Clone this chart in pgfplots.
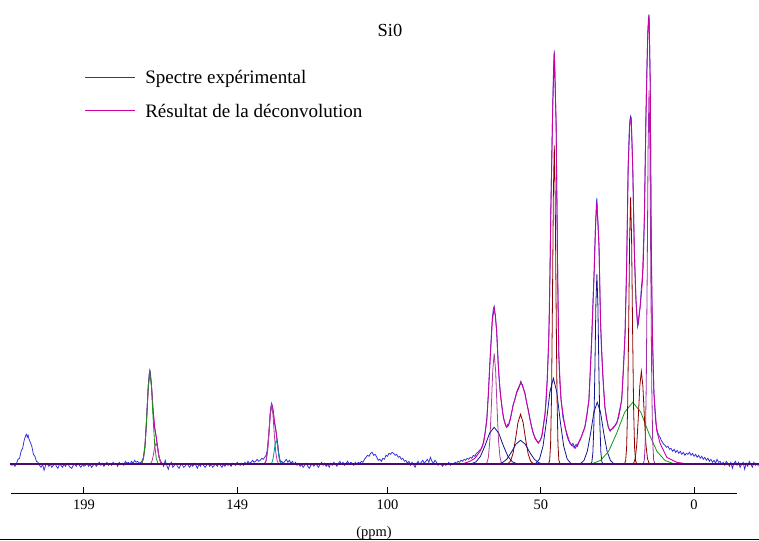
\documentclass[border=0pt]{standalone}
\usepackage{fontspec}
\setmainfont{Liberation Serif}
\usepackage{pgfplots}
\pgfplotsset{compat=1.18}
\definecolor{expblue}{RGB}{45,45,215}
\definecolor{fitmag}{RGB}{205,0,165}
\definecolor{basepur}{RGB}{80,10,110}
\definecolor{cnavy}{RGB}{20,20,140}
\definecolor{cred}{RGB}{139,0,0}
\definecolor{cgreen}{RGB}{20,150,20}
\definecolor{cteal}{RGB}{0,150,150}
\definecolor{cmauve}{RGB}{175,60,155}
\definecolor{cpurple}{RGB}{160,40,170}
\begin{document}
\begin{tikzpicture}
\useasboundingbox (-11bp,-48bp) rectangle (748bp,493bp);
\begin{axis}[
  at={(0,0)}, anchor=south west,
  scale only axis, width=726bp, height=493bp,
  xmin=-14, xmax=222.8, x dir=reverse,
  ymin=-28.7, ymax=464.3,
  clip=false,
  axis x line*=bottom, axis y line=none,
  x axis line style={black, line width=1bp},
  xtick={199,149,100,50,0},
  tick align=inside, major tick length=6bp,
  xtick style={black, line width=1bp},
  ytick=\empty,
  /pgf/number format/assume math mode=true,
  xticklabel style={font=\fontsize{14.5}{16}\selectfont, yshift=-3bp},
  xlabel={(ppm)},
  xlabel style={font=\fontsize{14.5}{16}\selectfont, at={(axis description cs:0.5,0)}, anchor=center, yshift=-40bp},
  title={Si0},
  title style={font=\fontsize{18.5}{20}\selectfont, at={(rel axis cs:0.522,1)}, anchor=center, yshift=-36bp},
  legend cell align=left,
  legend style={draw=none, fill=none, at={(rel axis cs:0,1)}, anchor=north west, xshift=74bp, yshift=-68bp, font=\fontsize{19.1}{21}\selectfont, row sep=15bp, inner sep=0pt},
]
% experimental spectrum
\addplot[expblue, line width=0.75bp, legend image code/.code={\node[anchor=west, inner sep=0pt] at (0bp,0bp) {\textcolor{expblue}{\rule[-0.45bp]{50bp}{0.9bp}}}; \path (58bp,0bp);}] coordinates {
(223.1,1) (222.5,-1) (222.0,0) (221.5,-2) (221.0,1) (220.5,5) (220.0,6) (219.5,13) (219.0,16) (218.5,24) (218.0,29) (217.7,30) (217.5,27) (217.2,29) (217.0,26) (216.5,22) (216.0,18) (215.5,10) (215.0,8) (214.5,3) (214.0,2) (213.5,-1)
(213.0,-3) (212.5,0) (212.0,-6) (211.5,-1) (211.0,1) (210.5,-2) (210.0,0) (209.5,-3) (209.0,-1) (208.5,1) (208.0,-2) (207.5,-4) (207.0,0) (206.5,-1) (206.0,-3) (205.5,0) (205.0,-2) (204.5,1) (204.0,-1) (203.5,-3) (203.0,-4) (202.5,-1) (202.0,0) (201.5,-2) (201.0,1) (200.5,-1) (200.0,-3) (199.5,0) (199.0,-2) (198.5,-1) (198.0,1) (197.5,-2) (197.0,0) (196.5,-3) (196.0,-1) (195.5,1) (195.0,-2) (194.5,0) (194.0,2) (193.5,-1) (193.0,1) (192.5,-2) (192.0,0) (191.5,2) (191.0,-1) (190.5,1) (190.0,-1) (189.5,2) (189.0,0) (188.5,1) (188.0,-2) (187.5,2) (187.0,0) (186.5,1) (186.0,-1) (185.5,3) (185.0,1) (184.5,2) (184.0,0) (183.5,3) (183.0,1) (182.5,4) (182.0,2) (181.5,3) (181.0,1)
(180.5,2) (180.1,3) (179.6,7) (179.1,17) (178.8,32) (178.55,47) (178.3,62) (178.0,80) (177.75,90) (177.5,94) (177.3,91) (177.0,79) (176.75,68) (176.5,55) (176.25,47) (176.0,37) (175.75,33) (175.5,29) (175.25,23) (175.0,18) (174.75,11) (174.5,7) (174.0,3) (173.5,1)
(173.0,-2) (172.5,4) (172.0,-1) (171.5,-5) (171.0,0) (170.5,2) (170.0,-3) (169.5,-1) (169.0,1) (168.5,-2) (168.0,-4) (167.5,-1) (167.0,0) (166.5,-3) (166.0,-2) (165.5,1) (165.0,-1) (164.5,-3) (164.0,0) (163.5,-2) (163.0,1) (162.5,-1) (162.0,-4) (161.5,0) (161.0,-2) (160.5,1) (160.0,-1) (159.5,-3) (159.0,-1) (158.5,1) (158.0,-2) (157.5,0) (157.0,-3) (156.5,-1) (156.0,0) (155.5,-2) (155.0,1) (154.5,-1) (154.0,-3) (153.5,0) (153.0,-2) (152.5,1) (152.0,-1) (151.5,0) (151.0,-2) (150.5,1) (150.0,0) (149.5,-1) (149.0,2) (148.5,0) (148.0,-1) (147.5,1) (147.0,-1) (146.5,2) (146.0,0) (145.5,3) (145.0,1) (144.5,2) (144.0,4) (143.5,2) (143.0,3) (142.5,5) (142.0,3) (141.5,4) (141.0,6)
(140.5,5) (140.05,7) (139.6,9) (139.3,13) (139.0,21) (138.7,31) (138.45,42) (138.25,52) (138.0,58) (137.8,61) (137.6,59) (137.35,55) (137.1,48) (136.9,42) (136.65,38) (136.45,34) (136.2,29) (136.0,24) (135.75,19) (135.55,13) (135.3,8) (135.1,5) (134.8,2) (134.5,3) (134.0,1)
(133.5,3) (133.0,5) (132.5,2) (132.0,4) (131.5,1) (131.0,3) (130.5,0) (130.0,2) (129.5,-1) (129.0,1) (128.5,-2) (128.0,0) (127.5,-3) (127.0,-1) (126.5,1) (126.0,-2) (125.5,-4) (125.0,-1) (124.5,0) (124.0,-2) (123.5,1) (123.0,-1) (122.5,-3) (122.0,0) (121.5,2) (121.0,-1) (120.5,1) (120.0,-2) (119.5,0) (119.0,-3) (118.5,1) (118.0,-1) (117.5,2) (117.0,0) (116.5,-2) (116.0,1) (115.5,3) (115.0,0) (114.5,2) (114.0,-1) (113.5,1) (113.0,3) (112.5,0) (112.0,2) (111.5,1) (111.0,-1) (110.5,2) (110.0,0) (109.5,2) (109.0,1) (108.5,3) (108.0,2) (107.5,5) (107.0,7) (106.5,9) (106.0,8) (105.5,11) (105.0,12) (104.5,9) (104.0,10) (103.5,7) (103.0,4) (102.5,5) (102.0,3) (101.5,6) (101.0,5) (100.5,9) (100.0,8) (99.5,11) (99.0,10) (98.5,12) (98.0,11) (97.5,9) (97.0,10) (96.5,7) (96.0,8) (95.5,5) (95.0,6) (94.5,3) (94.0,4) (93.5,1) (93.0,3) (92.5,-1) (92.0,2) (91.5,0) (91.0,-3) (90.5,1) (90.0,3) (89.5,0) (89.0,2) (88.5,4) (88.0,1) (87.5,3) (87.0,5) (86.5,2) (86.0,7) (85.5,3) (85.0,1) (84.5,4) (84.0,2) (83.5,-1) (83.0,1) (82.5,0) (82.0,-2) (81.5,1) (81.0,-1) (80.5,0) (80.0,2) (79.5,-1) (79.0,1) (78.5,0) (78.0,2)
(77.5,1) (77.0,3) (76.5,2) (76.0,4) (75.5,3) (75.0,5) (74.5,4) (74.0,6) (73.5,5) (73.0,7) (72.5,6) (72.0,9) (71.5,8) (71.0,11) (70.5,12) (70.0,14) (69.5,15) (69.0,18) (68.6,24) (68.2,30) (67.9,38) (67.6,46) (67.35,58) (67.1,70) (66.85,86) (66.6,101) (66.2,125) (65.8,146) (65.5,155) (65.2,158) (65.0,152) (64.8,149) (64.6,140) (64.4,133) (64.15,118) (63.9,102) (63.6,86) (63.3,76) (63.0,66) (62.7,59) (62.45,52) (62.2,48) (61.9,43) (61.6,41) (61.35,38) (61.1,37) (60.8,40) (60.5,39) (60.25,43) (60.0,45) (59.5,52) (59.0,60) (58.5,64) (57.9,72) (57.4,76) (56.8,80) (56.5,83) (56.2,80) (56.0,80) (55.6,75) (55.2,72) (54.7,63) (54.1,55) (53.5,45) (53.0,38) (52.5,31) (51.9,27) (51.4,24) (50.8,22) (50.3,23) (49.7,28) (49.2,37) (48.6,50) (48.2,66) (47.9,85) (47.6,108) (47.4,126) (47.2,150) (47.0,192) (46.85,225) (46.7,258) (46.4,310) (46.1,360) (45.85,395) (45.6,414) (45.4,395) (45.2,365) (45.0,340) (44.75,265) (44.5,193) (44.3,145) (44.1,108) (43.8,82) (43.4,66) (42.8,47) (42.1,39) (41.6,30) (41.0,24) (40.5,22) (40.0,19) (39.5,21) (39.0,17) (38.5,20) (38.0,18) (37.6,22) (37.2,25) (36.8,27) (36.4,31) (36.0,34) (35.6,38) (35.2,44) (34.8,52) (34.3,65) (33.9,90) (33.6,110) (33.4,126) (33.0,160) (32.6,193) (32.3,225) (32.1,243) (31.85,262) (31.7,266) (31.5,250) (31.3,240) (31.0,218) (30.75,178) (30.5,142) (30.2,114) (29.8,92) (29.5,75) (29.1,58) (28.6,46) (28.0,38) (27.7,35) (27.4,33) (26.9,35) (26.4,37) (25.8,39) (25.2,42) (24.6,47) (24.1,55) (23.6,66) (23.2,85) (22.8,110) (22.5,132) (22.25,165) (22.0,198) (21.75,245) (21.5,296) (21.2,330) (20.9,345) (20.7,348) (20.5,345) (20.25,320) (20.0,296) (19.75,255) (19.5,215) (19.2,185) (18.95,165) (18.7,150) (18.4,138) (18.2,140) (18.0,145) (17.6,158) (17.3,172) (17.1,180) (16.9,186) (16.6,197) (16.4,220) (16.2,248) (16.0,290) (15.7,348) (15.4,395) (15.1,432) (14.9,445) (14.7,450) (14.5,420) (14.3,382) (14.15,310) (14.0,232) (13.8,175) (13.6,132) (13.35,98) (13.1,73) (12.8,55) (12.5,42) (12.2,36) (11.9,32) (11.5,29) (11.1,27) (10.7,24) (10.3,22) (9.9,20) (9.5,19) (9.0,17)
(8.5,18) (8.0,15) (7.5,16) (7.0,13) (6.5,15) (6.0,12) (5.5,14) (5.0,11) (4.5,13) (4.0,10) (3.5,12) (3.0,9) (2.5,11) (2.0,10) (1.5,12) (1.0,9) (0.5,11) (0.0,8) (-0.5,10) (-1.0,7) (-1.5,9) (-2.0,6) (-2.5,8) (-3.0,5) (-3.5,7) (-4.0,4) (-4.5,6) (-5.0,3) (-5.5,5) (-6.0,2) (-6.5,4) (-7.0,1) (-7.5,5) (-8.0,2) (-8.5,3) (-9.0,0) (-9.5,2) (-10.0,-1) (-10.5,3) (-11.0,1) (-11.5,-2) (-12.0,2) (-12.5,-4) (-13.0,1) (-13.5,3) (-14.0,-1) (-14.5,2) (-15.0,-3) (-15.5,0) (-16.0,2) (-16.5,-5) (-17.0,1) (-17.5,-2) (-18.0,3) (-18.5,0) (-19.0,-3) (-19.5,2) (-20.0,-1) (-20.5,1) (-21.0,-2)
};
\addlegendentry{Spectre expérimental}
% deconvolution result
\addplot[fitmag, line width=0.9bp, legend image code/.code={\node[anchor=west, inner sep=0pt] at (0bp,0bp) {\textcolor{fitmag}{\rule[-0.45bp]{50bp}{0.9bp}}}; \path (58bp,0bp);}] coordinates {
(223.1,0) (180.9,0) (180.1,1.2) (179.6,5.8) (179.1,18.4) (178.55,46) (178.0,78.7) (177.5,92.3) (177.0,80.5) (176.5,56.1) (176.0,38.4) (175.5,28.5) (175.0,17.8) (174.5,7.4) (174.0,1.8) (173.4,0)
(140.7,0) (140.05,0.8) (139.6,3.7) (139.15,12.4) (138.7,29.5) (138.25,49.6) (137.8,60) (137.35,54.6) (136.9,43.9) (136.45,35.6) (136.0,24.8) (135.55,11.6) (135.1,3.1) (134.6,0.4) (134.0,0)
(78.0,0) (76.4,0.5) (75.0,1) (73.1,3) (71.5,6) (69.8,13) (68.6,22) (67.6,44) (67.1,70) (66.6,101) (65.8,144) (65.2,156) (64.8,148) (64.4,134) (63.9,101) (63.3,74) (62.7,58) (62.2,47) (61.6,40) (61.1,37) (60.5,39) (60.0,44) (59.0,59) (57.9,71) (56.8,79) (56.5,82) (56.0,79) (55.2,71) (54.1,54) (53.0,37) (51.9,26) (50.8,21) (49.7,27) (48.6,51) (47.9,84) (47.4,125) (47.0,190) (46.7,257) (46.1,357) (45.6,412) (45.0,341) (44.5,191) (44.1,107) (43.4,64) (42.1,37) (40.5,21) (38.8,16) (37.2,24) (35.6,37) (34.3,64) (33.4,124) (32.6,191) (32.1,241) (31.7,262) (31.0,217) (30.5,141) (29.8,91) (29.1,57) (28.0,37) (27.4,34) (26.4,36) (25.2,41) (23.6,64) (22.5,131) (22.0,197) (21.5,297) (20.9,344) (20.5,346) (20.0,297) (19.5,214) (18.95,164) (18.4,139) (17.6,157) (16.9,181) (16.2,247) (15.7,347) (15.1,431) (14.7,449) (14.3,381) (14.0,231) (13.6,131) (13.1,71) (12.2,34) (11.1,21) (8.9,7) (5.7,2) (1.3,0) (-21.2,0)
};
\addlegendentry{Résultat de la déconvolution}
% components
\addplot[cgreen, line width=0.8bp, forget plot] coordinates {(180.86,0) (180.125,1.2) (179.6,5.75) (179.075,19.3) (178.55,46) (178.025,77.4) (177.5,92) (176.975,77.4) (176.45,46) (175.925,19.3) (175.4,5.75) (174.875,1.2) (174.14,0)};
\addplot[cmauve, line width=0.8bp, forget plot] coordinates {(178.06,0) (177.5,0.27) (177.1,1.3) (176.7,4.4) (176.3,10.5) (175.9,17.7) (175.5,21) (175.1,17.7) (174.7,10.5) (174.3,4.4) (173.9,1.3) (173.5,0.27) (172.94,0)};
\addplot[cmauve, line width=0.8bp, forget plot] coordinates {(140.68,0) (140.05,0.77) (139.6,3.7) (139.15,12.4) (138.7,29.5) (138.25,49.6) (137.8,59) (137.35,49.6) (136.9,29.5) (136.45,12.4) (136.0,3.7) (135.55,0.77) (134.92,0)};
\addplot[cteal, line width=0.8bp, forget plot] coordinates {(138.54,0) (138.05,0.31) (137.7,1.5) (137.35,5.0) (137.0,12) (136.65,20.2) (136.3,24) (135.95,20.2) (135.6,12) (135.25,5.0) (134.9,1.5) (134.55,0.31) (134.06,0)};
\addplot[cmauve, line width=0.8bp, forget plot] coordinates {(68.24,0) (67.575,1.4) (67.1,6.9) (66.625,23.3) (66.15,55.5) (65.675,93.4) (65.2,111) (64.725,93.4) (64.25,55.5) (63.775,23.3) (63.3,6.9) (62.825,1.4) (62.16,0)};
\addplot[cnavy, line width=0.8bp, forget plot] coordinates {(74.8,0) (72.7,0.48) (71.2,2.3) (69.7,7.8) (68.2,18.5) (66.7,31.1) (65.2,37) (63.7,31.1) (62.2,18.5) (60.7,7.8) (59.2,2.3) (57.7,0.48) (55.6,0)};
\addplot[cred, line width=0.8bp, forget plot] coordinates {(61.88,0) (60.725,0.65) (59.9,3.1) (59.075,10.5) (58.25,25) (57.425,42) (56.6,50) (55.775,42) (54.95,25) (54.125,10.5) (53.3,3.1) (52.475,0.65) (51.32,0)};
\addplot[cnavy, line width=0.8bp, forget plot] coordinates {(66.2,0) (64.1,0.31) (62.6,1.5) (61.1,5.0) (59.6,12) (58.1,20.2) (56.6,24) (55.1,20.2) (53.6,12) (52.1,5.0) (50.6,1.5) (49.1,0.31) (47.0,0)};
\addplot[cred, line width=0.8bp, forget plot] coordinates {(47.52,0) (47.1,4.1) (46.8,19.9) (46.5,67) (46.2,159.5) (45.9,268.3) (45.6,319) (45.3,268.3) (45.0,159.5) (44.7,67) (44.4,19.9) (44.1,4.1) (43.68,0)};
\addplot[cnavy, line width=0.8bp, forget plot] coordinates {(53.1,0) (51.525,1.1) (50.4,5.4) (49.275,18.1) (48.15,43) (47.025,72.3) (45.9,86) (44.775,72.3) (43.65,43) (42.525,18.1) (41.4,5.4) (40.275,1.1) (38.7,0)};
\addplot[cnavy, line width=0.8bp, forget plot] coordinates {(33.78,0) (33.325,2.5) (33.0,11.9) (32.675,39.9) (32.35,95) (32.025,159.8) (31.7,190) (31.375,159.8) (31.05,95) (30.725,39.9) (30.4,11.9) (30.075,2.5) (29.62,0)};
\addplot[cnavy, line width=0.8bp, forget plot] coordinates {(38.48,0) (36.975,0.8) (35.9,3.9) (34.825,13) (33.75,31) (32.675,52.1) (31.6,62) (30.525,52.1) (29.45,31) (28.375,13) (27.3,3.9) (26.225,0.8) (24.72,0)};
\addplot[cgreen, line width=0.8bp, forget plot] coordinates {(36.8,0) (33.125,0.8) (30.5,3.9) (27.875,13) (25.25,31) (22.625,52.1) (20.0,62) (17.375,52.1) (14.75,31) (12.125,13) (9.5,3.9) (6.875,0.8) (3.2,0)};
\addplot[cred, line width=0.8bp, forget plot] coordinates {(22.78,0) (22.325,3.5) (22.0,16.7) (21.675,56.1) (21.35,133.5) (21.025,224.5) (20.7,267) (20.375,224.5) (20.05,133.5) (19.725,56.1) (19.4,16.7) (19.075,3.5) (18.62,0)};
\addplot[cred, line width=0.8bp, forget plot] coordinates {(20.4,0) (19.7,1.2) (19.2,5.8) (18.7,19.5) (18.2,46.5) (17.7,78.2) (17.2,93) (16.7,78.2) (16.2,46.5) (15.7,19.5) (15.2,5.8) (14.7,1.2) (14.0,0)};
\addplot[cpurple, line width=0.8bp, forget plot] coordinates {(16.62,0) (16.2,4.9) (15.9,23.4) (15.6,78.5) (15.3,187) (15.0,314.5) (14.7,374) (14.4,314.5) (14.1,187) (13.8,78.5) (13.5,23.4) (13.2,4.9) (12.78,0)};
% baseline
\addplot[basepur, line width=2.2bp, forget plot] coordinates {(223.1,0) (-21.2,0)};
\end{axis}
\draw[black, line width=1.2bp] (-11bp,-46.6bp) -- (748bp,-46.6bp);
\end{tikzpicture}
\end{document}
